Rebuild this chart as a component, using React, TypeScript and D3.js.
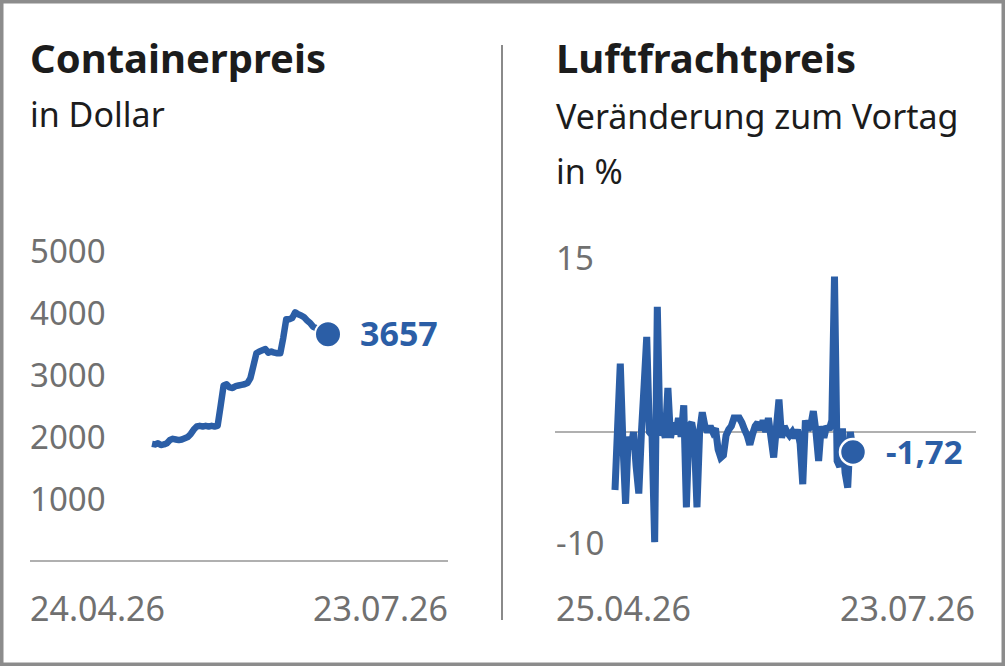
import React from 'react';
import * as d3 from 'd3';

// Containerpreis in Dollar, 24.04.26 – 23.07.26
const containerValues = [
  1890, 1880, 1900, 1870, 1880, 1900, 1950, 1970, 1960, 1950,
  1960, 1980, 2000, 2050, 2120, 2170, 2180, 2170, 2180, 2170,
  2180, 2170, 2180, 2500, 2830, 2850, 2800, 2790, 2820, 2830,
  2840, 2850, 2870, 2950, 3150, 3350, 3380, 3400, 3420, 3360,
  3380, 3360, 3350, 3350, 3600, 3900, 3900, 3920, 4010, 3980,
  3960, 3930, 3880, 3840, 3780, 3760, 3720, 3690, 3670, 3657,
];
const containerTicks = [1000, 2000, 3000, 4000, 5000];
const containerDates = ['24.04.26', '23.07.26'];

// Luftfrachtpreis, Veränderung zum Vortag in %, 25.04.26 – 23.07.26
const airValues = [
  -5.0, 0.5, 5.9, -1.0, -6.2, -0.4, -1.5, 0.0, -3.0, -5.3,
  0.0, 4.0, 8.2, 0.0, -0.3, -9.5, 10.8, -0.3, 0.5, -0.5,
  3.8, -0.5, 0.8, -0.2, 1.2, -0.4, 2.3, -6.5, 0.5, 0.8,
  -0.5, -6.5, 0.0, 1.7, 0.5, 0.0, 0.5, 0.0, 0.3, -1.5,
  -2.2, -2.0, -0.3, 0.2, 0.5, 1.2, 1.2, 1.2, 0.8, 0.2,
  -0.3, -1.1, -0.2, 0.5, 0.8, 0.2, 1.0, 0.0, 1.2, -0.5,
  -2.2, 0.3, 2.8, -0.5, 0.5, 0.0, -0.3, 0.0, -0.5, 0.2,
  -1.0, -4.5, 1.0, 0.2, 0.5, 1.8, 0.0, -2.5, 0.5, -0.5,
  0.5, 0.2, 1.0, 13.4, -2.5, -3.0, 0.3, -3.5, -4.8, 0.0,
  -1.72,
];
const airTicks = [-10, 15];
const airDates = ['25.04.26', '23.07.26'];

const BLUE = '#2b5ea6';
const GREY_TEXT = '#707070';
const DARK = '#1c1c1c';
const FONT = '"Noto Sans", sans-serif';

// German number format with a plain hyphen as minus
const fmtDe = (v: number) => d3.format('.2f')(v).replace('.', ',').replace('\u2212', '-');

const App: React.FC = () => {
  const width = 1005;
  const height = 666;

  // left panel scales
  const xL = d3.scaleLinear().domain([0, containerValues.length - 1]).range([152, 328]);
  const yL = d3.scaleLinear().domain([0, 5000]).range([561, 251]);
  const lineL = d3.line<number>()
    .x((_, i) => xL(i))
    .y(d => yL(d));
  const lastL = containerValues[containerValues.length - 1];

  // right panel scales
  const xR = d3.scaleLinear().domain([0, airValues.length - 1]).range([615, 853]);
  const yR = d3.scaleLinear().domain([-10, 15]).range([548, 258]);
  const lineR = d3.line<number>()
    .x((_, i) => xR(i))
    .y(d => yR(d));
  const lastR = airValues[airValues.length - 1];

  return (
    <div style={{ position: 'absolute', left: 0, top: 0 }}>
      <svg width={width} height={height} style={{ display: 'block', background: '#fff' }}>
        <rect x={0} y={0} width={width} height={height} fill="#fff" stroke="#8c8c8c" strokeWidth={7} />

        {/* divider */}
        <line x1={502} x2={502} y1={45} y2={620} stroke="#8a8a8a" strokeWidth={2} />

        {/* left titles */}
        <text x={30} y={73} fontFamily={FONT} fontWeight={700} fontSize={40} fill={DARK}>Containerpreis</text>
        <text x={30} y={127} fontFamily={FONT} fontSize={34} fill={DARK}>in Dollar</text>

        {/* left y ticks */}
        {containerTicks.map(t => (
          <text key={t} x={30} y={yL(t) + 12} fontFamily={FONT} fontSize={33} fill={GREY_TEXT}>{t}</text>
        ))}
        <line x1={30} x2={448} y1={yL(0)} y2={yL(0)} stroke="#b0b0b0" strokeWidth={2} />
        <text x={30} y={621} fontFamily={FONT} fontSize={34} fill={GREY_TEXT}>{containerDates[0]}</text>
        <text x={448} y={621} textAnchor="end" fontFamily={FONT} fontSize={34} fill={GREY_TEXT}>{containerDates[1]}</text>

        <path d={lineL(containerValues) || ''} fill="none" stroke={BLUE} strokeWidth={6.5} strokeLinejoin="round" />
        <circle cx={xL(containerValues.length - 1)} cy={yL(lastL)} r={13} fill={BLUE} stroke="#fff" strokeWidth={2} />
        <text x={360} y={yL(lastL) + 12} fontFamily={FONT} fontWeight={700} fontSize={34} fill={BLUE}>{lastL}</text>

        {/* right titles */}
        <text x={556} y={73} fontFamily={FONT} fontWeight={700} fontSize={40} fill={DARK}>Luftfrachtpreis</text>
        <text x={556} y={129} fontFamily={FONT} fontSize={34} fill={DARK}>Veränderung zum Vortag</text>
        <text x={556} y={184} fontFamily={FONT} fontSize={34} fill={DARK}>in %</text>

        {/* right y ticks */}
        {airTicks.map(t => (
          <text key={t} x={556} y={yR(t) + (t > 0 ? 12 : 7)} fontFamily={FONT} fontSize={33} fill={GREY_TEXT}>{t}</text>
        ))}
        <line x1={555} x2={976} y1={yR(0)} y2={yR(0)} stroke="#b0b0b0" strokeWidth={2} />
        <text x={556} y={621} fontFamily={FONT} fontSize={34} fill={GREY_TEXT}>{airDates[0]}</text>
        <text x={975} y={621} textAnchor="end" fontFamily={FONT} fontSize={34} fill={GREY_TEXT}>{airDates[1]}</text>

        <path d={lineR(airValues) || ''} fill="none" stroke={BLUE} strokeWidth={7} strokeLinejoin="miter" strokeMiterlimit={2} />
        <circle cx={xR(airValues.length - 1)} cy={yR(lastR)} r={13} fill={BLUE} stroke="#fff" strokeWidth={2.5} />
        <text x={886} y={yR(lastR) + 12} fontFamily={FONT} fontWeight={700} fontSize={33} fill={BLUE}>
          {fmtDe(lastR)}
        </text>
      </svg>
    </div>
  );
};

export default App;
